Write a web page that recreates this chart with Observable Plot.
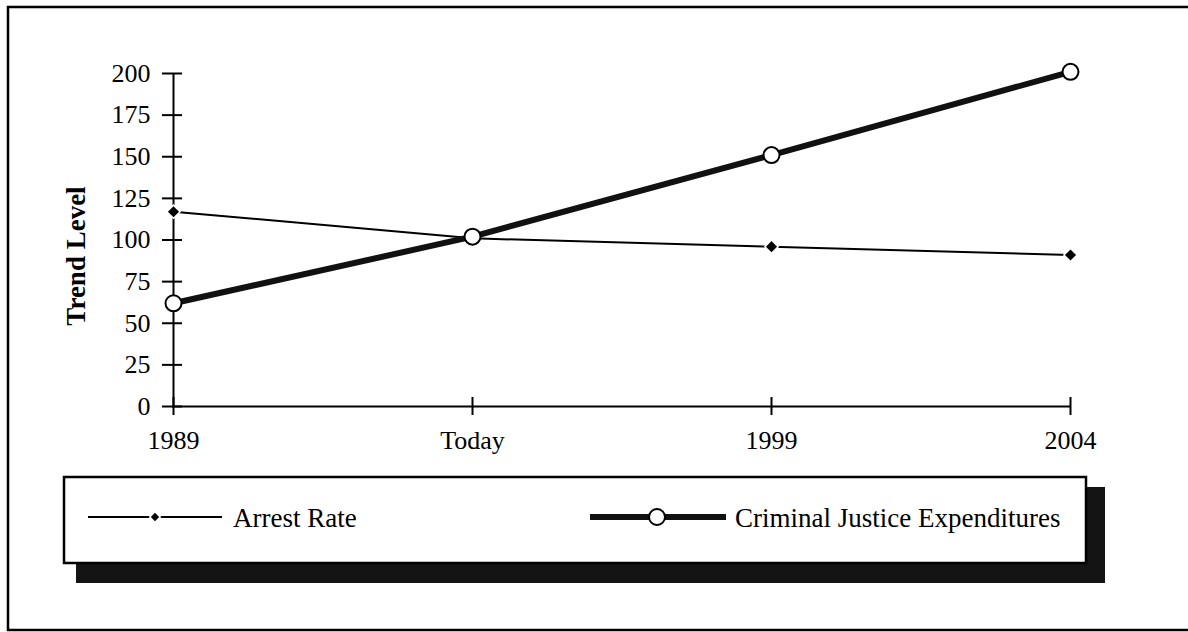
<!DOCTYPE html>
<html>
<head>
<meta charset="utf-8">
<script src="https://cdn.jsdelivr.net/npm/d3@7"></script>
<script src="https://cdn.jsdelivr.net/npm/@observablehq/plot@0.6"></script>
<style>
  html, body { margin: 0; padding: 0; background: #fff; }
  #chart svg { display: block; }
</style>
</head>
<body>
<div id="chart"></div>
<script>
// ---- Data ----
const periods = ["1989", "Today", "1999", "2004"];
const arrestRate = [117, 101, 96, 91];
const expenditures = [62, 102, 151, 201];
const yTicks = [0, 25, 50, 75, 100, 125, 150, 175, 200];
const seriesNames = ["Arrest Rate", "Criminal Justice Expenditures"];
const yLabel = "Trend Level";

const arrest = periods.map((p, i) => ({period: p, value: arrestRate[i]}));
const spend = periods.map((p, i) => ({period: p, value: expenditures[i]}));

const W = 1188, H = 632;
const FONT = "'Liberation Serif', 'Times New Roman', serif";

const chart = Plot.plot({
  width: W,
  height: H,
  marginLeft: 172,
  marginRight: 118,
  marginTop: 73,
  marginBottom: 226,
  style: {fontFamily: FONT, fontSize: "26px", color: "#000", background: "#fff", overflow: "visible"},
  x: {type: "point", domain: periods, padding: 0},
  y: {domain: [0, 200]},
  marks: [
    // axis lines
    Plot.ruleX([periods[0]], {stroke: "#000", strokeWidth: 2}),
    Plot.ruleY([0], {stroke: "#000", strokeWidth: 2}),
    // crossing tick marks
    Plot.axisY({ticks: yTicks, tickSize: 20, dx: 10, tickFormat: () => "", label: null, strokeWidth: 2}),
    Plot.axisY({ticks: yTicks, tickSize: 0, tickPadding: 22, label: null, fontSize: 26}),
    Plot.axisX({tickSize: 18, dy: -9, tickFormat: () => "", label: null, strokeWidth: 2}),
    Plot.axisX({tickSize: 0, tickPadding: 24, label: null, fontSize: 26}),
    // y axis title
    Plot.text([yLabel], {frameAnchor: "left", textAnchor: "middle", rotate: -90, dx: -96, dy: 16, fontWeight: "bold", fontSize: 27, fill: "#000"}),
    // Arrest rate
    Plot.line(arrest, {x: "period", y: "value", stroke: "#000", strokeWidth: 2}),
    Plot.dot(arrest, {x: "period", y: "value", symbol: "diamond2", r: 5, fill: "#000", stroke: "#fff", strokeWidth: 3, paintOrder: "stroke"}),
    // Criminal justice expenditures
    Plot.line(spend, {x: "period", y: "value", stroke: "#111", strokeWidth: 6}),
    Plot.dot(spend, {x: "period", y: "value", r: 8, fill: "#fff", stroke: "#000", strokeWidth: 2})
  ]
});

document.getElementById("chart").appendChild(chart);

// ---- decorations: outer border and legend box ----
const svg = d3.select(chart);
svg.append("path")
  .attr("d", `M${W + 10},7 H8 V630 H${W + 10}`)
  .attr("fill", "none").attr("stroke", "#000").attr("stroke-width", 2.5);

const lg = svg.append("g").attr("text-anchor", "start");
// shadow
lg.append("rect").attr("x", 76).attr("y", 487).attr("width", 1105 - 76).attr("height", 583 - 487).attr("fill", "#141414");
// box
lg.append("rect").attr("x", 64).attr("y", 477).attr("width", 1086 - 64).attr("height", 563 - 477)
  .attr("fill", "#fff").attr("stroke", "#000").attr("stroke-width", 2.5);

const ly = 517;
// Arrest Rate sample
lg.append("line").attr("x1", 88).attr("x2", 222).attr("y1", ly).attr("y2", ly).attr("stroke", "#000").attr("stroke-width", 2);
lg.append("path").attr("d", d3.symbol(d3.symbolDiamond2, 45)()).attr("transform", `translate(155,${ly})`)
  .attr("fill", "#000").attr("stroke", "#fff").attr("stroke-width", 3).attr("paint-order", "stroke");
lg.append("text").attr("x", 233).attr("y", ly + 10).attr("text-anchor", "start").text(seriesNames[0])
  .attr("font-family", FONT).attr("font-size", 27).attr("fill", "#000");
// Expenditures sample
lg.append("line").attr("x1", 590).attr("x2", 726).attr("y1", ly).attr("y2", ly).attr("stroke", "#111").attr("stroke-width", 6);
lg.append("circle").attr("cx", 657).attr("cy", ly).attr("r", 8).attr("fill", "#fff").attr("stroke", "#000").attr("stroke-width", 2);
lg.append("text").attr("x", 735).attr("y", ly + 10).attr("text-anchor", "start").text(seriesNames[1])
  .attr("font-family", FONT).attr("font-size", 27).attr("fill", "#000");
</script>
</body>
</html>
